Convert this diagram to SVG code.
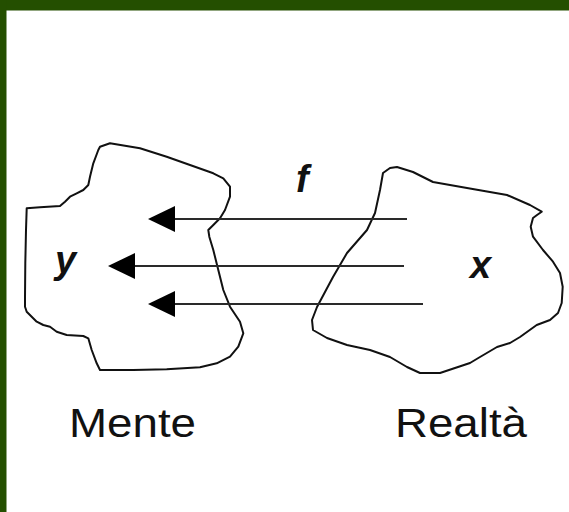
<svg xmlns="http://www.w3.org/2000/svg" width="569" height="512" viewBox="0 0 569 512">
<style>
.blob{fill:none;stroke:#111;stroke-width:2;stroke-linejoin:round;stroke-linecap:round}
.conn{stroke:#2a2a2a;stroke-width:2;fill:none}
.var{font-family:"Liberation Sans",Arial,sans-serif;font-weight:bold;font-style:italic;font-size:38px;fill:#111}
.lbl{font-family:"Liberation Sans",Arial,sans-serif;font-size:40px;fill:#111}
</style>
<defs>
<marker id="ah" viewBox="0 0 27 26" refX="0" refY="13" markerWidth="27" markerHeight="26" markerUnits="userSpaceOnUse" orient="auto">
<path d="M0,0 L27,13 L0,26 Z" fill="#000"/>
</marker>
</defs>
<rect x="0" y="0" width="569" height="512" fill="#fff"/>
<rect x="0" y="0" width="569" height="10.5" fill="#244f00"/>
<rect x="0" y="0" width="6.5" height="512" fill="#244f00"/>
<g id="mente">
<path class="blob" d="M100,146.7 L110,143.3 L140,148.3 L166.7,156.7 L190,165 L213.3,173.3 L223.3,178.3 L230,186.7 L230,196.7 L225,210 L220,218.3 L213.3,225 L208.3,230 L209.3,236.7 L213.3,250 L218.3,270 L223.3,290 L230,306.7 L240,321.7 L243.3,333.3 L238.3,346.7 L230,356.7 L216.7,363.3 L200,367.3 L166.7,369.3 L133.3,370 L100,370 L96.7,363.3 L91.7,350 L88.3,338.3 L83.3,336 L66.7,335 L56.7,331.7 L50,326.7 L43.3,325 L36.7,321.7 L31.7,316.7 L26.7,311.7 L25,306.7 L25,296.7 L25.3,263.3 L26,230 L26.7,208.3 L40,207.3 L60,206 L65,201.7 L70,196.7 L76.7,193.3 L83.3,190 L88.3,185 L90,176.7 L93.3,163.3 L98.3,150 Z"/>
<text class="var" x="55" y="273">y</text>
<text class="lbl" x="69" y="437" textLength="127" lengthAdjust="spacingAndGlyphs">Mente</text>
</g>
<g id="realta">
<path class="blob" d="M383,173 L390,168 L397,167 L413,172 L433,182 L467,188 L507,195 L530,205 L541.7,211.7 L537,215 L533,218 L530.7,226.7 L533,236.7 L543,250 L553,261.7 L560,273 L562.7,286.7 L561.7,303 L558,313 L550,320 L536.7,325 L520,337 L510,343 L497,347 L480,357 L470,363 L440,373 L420,373 L407,367 L390,357 L370,350 L347,345 L327,338 L313,330 L312,320 L317,307 L333,277 L347,253 L367,230 L375,213 L380,190 Z"/>
<text class="var" x="470" y="278">x</text>
<text class="lbl" x="395" y="437" textLength="132" lengthAdjust="spacingAndGlyphs">Realtà</text>
</g>
<g id="connectors">
<line class="conn" x1="407" y1="219" x2="175" y2="219" marker-end="url(#ah)"/>
<line class="conn" x1="404" y1="266" x2="135" y2="266" marker-end="url(#ah)"/>
<line class="conn" x1="423" y1="304" x2="175" y2="304" marker-end="url(#ah)"/>
<text class="var" x="296" y="192">f</text>
</g>
</svg>
